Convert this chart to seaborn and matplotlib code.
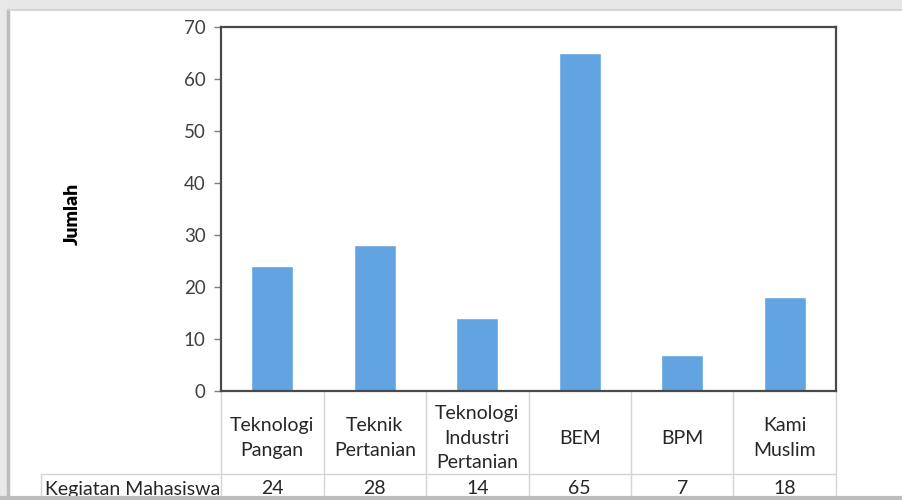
import matplotlib
matplotlib.use("Agg")
import matplotlib.pyplot as plt
import matplotlib.patches as mpatches
import seaborn as sns

# data
categories = ["Teknologi\nPangan", "Teknik\nPertanian", "Teknologi\nIndustri\nPertanian",
              "BEM", "BPM", "Kami\nMuslim"]
values = [24, 28, 14, 65, 7, 18]
series_name = "Kegiatan Mahasiswa"
y_ticks = [0, 10, 20, 30, 40, 50, 60, 70]

sns.set_style("white")
plt.rcParams["font.family"] = ["Lato", "DejaVu Sans"]

fig = plt.figure(figsize=(9.02, 5.0), dpi=100)
fig.patch.set_facecolor("white")

# screenshot frame: grey band on top and left
fig.patches.append(mpatches.Rectangle((0, 1 - 10 / 500), 1, 10 / 500, transform=fig.transFigure,
                                      facecolor="#e6e6e6", edgecolor="none", zorder=0))
fig.patches.append(mpatches.Rectangle((0, 0), 8 / 902, 1, transform=fig.transFigure,
                                      facecolor="#e9e9e9", edgecolor="none", zorder=0))
fig.add_artist(plt.Line2D([8 / 902, 8 / 902], [0, 1 - 10 / 500], transform=fig.transFigure,
                          color="#bdbdbd", lw=2.5))
fig.add_artist(plt.Line2D([8 / 902, 1], [1 - 10 / 500, 1 - 10 / 500], transform=fig.transFigure,
                          color="#d0d0d0", lw=1.2))
fig.add_artist(plt.Line2D([0, 1], [2 / 500, 2 / 500], transform=fig.transFigure,
                          color="#bdbdbd", lw=3))

ax = fig.add_axes([221 / 902, 1 - 391 / 500, 615 / 902, 364 / 500])
sns.barplot(x=list(range(len(values))), y=values, color="#62a3e1", width=0.41,
            saturation=1, ax=ax)

ax.set_ylim(0, 70)
ax.set_xlim(-0.5, len(values) - 0.5)
ax.set_yticks(y_ticks)
ax.set_yticklabels([str(t) for t in y_ticks], fontsize=13.5, color="#404040")
ax.set_xticks([])
ax.set_xlabel("")
ax.tick_params(axis="y", left=True, length=5, width=1, color="#7f7f7f", pad=6)
for s in ax.spines.values():
    s.set_color("#4a4a4a")
    s.set_linewidth(1.6)

fig.text(72 / 902, 1 - 214 / 500, "Jumlah", rotation=90, ha="center", va="center",
         fontsize=14, fontweight="heavy", color="black")

# data table under the axis
tr = ax.get_xaxis_transform()
line_c = "#d4d4d4"
row_line = -83 / 364
bottom = -120 / 364
for i in range(len(values) + 1):
    ax.plot([i - 0.5, i - 0.5], [0, bottom], transform=tr, color=line_c, lw=1, clip_on=False)
ax.plot([-180 / 615, 1], [row_line, row_line], transform=ax.transAxes, color=line_c,
        lw=1, clip_on=False)
ax.plot([-180 / 615, -180 / 615], [row_line, bottom], transform=ax.transAxes, color=line_c,
        lw=1, clip_on=False)

for i, (cat, v) in enumerate(zip(categories, values)):
    ax.text(i, -47 / 364, cat, transform=tr, ha="center", va="center", fontsize=14,
            color="#262626", linespacing=1.55)
    ax.text(i, -98 / 364, str(v), transform=tr, ha="center", va="center", fontsize=14,
            color="#262626")
ax.text(-176 / 615, -98 / 364, series_name, transform=ax.transAxes, ha="left", va="center",
        fontsize=14, color="#262626")

fig.savefig("out.png", dpi=100)
